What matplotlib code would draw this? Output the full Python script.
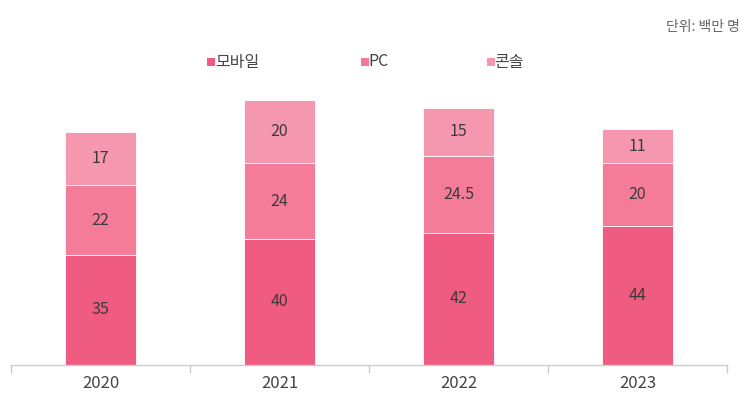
import matplotlib
matplotlib.use("Agg")
import matplotlib.pyplot as plt
from matplotlib.patches import Rectangle
import numpy as np

plt.rcParams['font.family'] = ['Noto Sans CJK KR', 'DejaVu Sans']

years = ['2020', '2021', '2022', '2023']
mobile = [35, 40, 42, 44]
pc = [22, 24, 24.5, 20]
console = [17, 20, 15, 11]
series_names = ['모바일', 'PC', '콘솔']
colors = ['#F05B81', '#F47C98', '#F598AF']

W, H = 752, 397
fig = plt.figure(figsize=(W/100, H/100), dpi=100)
ax_bottom = 365
ax_top = 40
ax = fig.add_axes([11/W, (H-ax_bottom)/H, (727-11)/W, (ax_bottom-ax_top)/H])

x = np.arange(len(years))
bw = 0.4
bottom = np.zeros(len(years))
for vals, col in zip([mobile, pc, console], colors):
    vals = np.array(vals, dtype=float)
    ax.bar(x, vals, bw, bottom=bottom, color=col, edgecolor='white', linewidth=0.6)
    for xi, v, b in zip(x, vals, bottom):
        ax.text(xi, b + v/2, f'{v:g}', ha='center', va='center', fontsize=11.5, color='#3a3a3a')
    bottom += vals

ax.set_xlim(-0.5, len(years) - 0.5)
ax.set_ylim(0, (ax_bottom-ax_top)/3.15)
for s in ['top', 'right', 'left']:
    ax.spines[s].set_visible(False)
ax.spines['bottom'].set_color('#cccccc')
ax.spines['bottom'].set_linewidth(1)
ax.set_yticks([])
ax.set_xticks(np.arange(-0.5, len(years), 1.0), minor=False)
ax.set_xticklabels([])
ax.tick_params(axis='x', which='major', length=6, color='#cccccc', width=1)
ax.set_xticks(x, minor=True)
ax.set_xticklabels(years, minor=True)
ax.tick_params(axis='x', which='minor', length=0, pad=7, labelsize=12, labelcolor='#444444')

# legend
leg_items = [(207, 215), (361, 368), (487, 494)]
for (sx, tx), name, col in zip(leg_items, series_names, colors):
    sq = 8
    fig.patches.append(Rectangle((sx/W, (H-62-sq/2)/H), sq/W, sq/H, transform=fig.transFigure,
                                 facecolor=col, edgecolor='none'))
    fig.text(tx/W, (H-62)/H, name, ha='left', va='center', fontsize=11.5, color='#444444',
             fontweight='medium')

fig.text(740/W, (H-27)/H, '단위: 백만 명', ha='right', va='center', fontsize=10, color='#666666')

fig.savefig('out.png', dpi=100)
